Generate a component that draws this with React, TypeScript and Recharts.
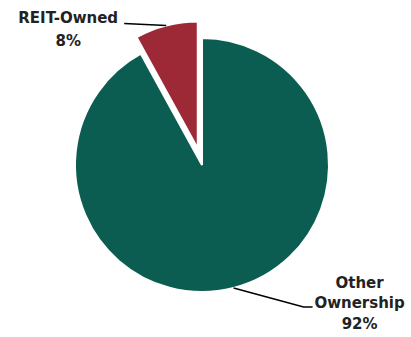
import { PieChart, Pie, Cell } from "recharts";

const categories = ["Other Ownership", "REIT-Owned"];
const shares = [92, 8];
const colors = ["#0b5d52", "#9d2937"];

const data = categories.map((name, i) => ({ name, value: shares[i] }));

const RAD = Math.PI / 180;
const FONT = "'DejaVu Sans', sans-serif";

// label + leader line, drawn from the slice edge
function renderLabel(props: any, which: string) {
  const { cx, cy, midAngle, outerRadius, name, percent } = props;
  if (name !== which) return null;
  const ex = cx + outerRadius * Math.cos(-midAngle * RAD);
  const ey = cy + outerRadius * Math.sin(-midAngle * RAD);
  const pct = `${Math.round(percent * 100)}%`;
  if (which === "REIT-Owned") {
    const lx = ex - 42;
    const ly = ey - 2;
    return (
      <g>
        <polyline points={`${ex},${ey} ${lx},${ly}`} stroke="#000" strokeWidth={1.5} fill="none" />
        <text x={lx - 56} y={ly - 1} textAnchor="middle" fontFamily={FONT} fontWeight="bold" fontSize={15} fill="#222">
          <tspan x={lx - 56} dy={0}>REIT-Owned</tspan>
          <tspan x={lx - 56} dy={23}>{pct}</tspan>
        </text>
      </g>
    );
  }
  const mx = ex + 70;
  const my = ey + 19;
  const tx = mx + 9;
  return (
    <g>
      <polyline points={`${ex},${ey} ${mx},${my} ${tx},${my}`} stroke="#000" strokeWidth={1.5} fill="none" />
      <text x={tx + 47} y={my - 19} textAnchor="middle" fontFamily={FONT} fontWeight="bold" fontSize={15} fill="#222">
        <tspan x={tx + 47} dy={0}>Other</tspan>
        <tspan x={tx + 47} dy={20}>Ownership</tspan>
        <tspan x={tx + 47} dy={21}>{pct}</tspan>
      </text>
    </g>
  );
}

export default function App() {
  const cx = 202;
  const cy = 165;
  const r = 127;
  // explode REIT slice outward along its mid angle
  const mid = 90 - (360 * shares[0]) / 100 - (360 * shares[1]) / 200;
  const off = 17;
  const ox = off * Math.cos(-mid * RAD);
  const oy = off * Math.sin(-mid * RAD);
  return (
    <div style={{ position: "absolute", left: 0, top: 0, background: "#fff" }}>
      <PieChart width={411} height={337} margin={{ top: 0, right: 0, bottom: 0, left: 0 }}>
        <Pie
          data={data}
          dataKey="value"
          nameKey="name"
          cx={cx}
          cy={cy}
          outerRadius={r}
          startAngle={90}
          endAngle={-270}
          isAnimationActive={false}
          labelLine={false}
          label={(p: any) => renderLabel(p, "Other Ownership")}
        >
          {data.map((d, i) => (
            <Cell
              key={d.name}
              fill={i === 0 ? colors[0] : "none"}
              stroke={i === 0 ? "#fff" : "none"}
              strokeWidth={2}
            />
          ))}
        </Pie>
        <Pie
          data={data}
          dataKey="value"
          nameKey="name"
          cx={cx + ox}
          cy={cy + oy}
          outerRadius={r}
          startAngle={90}
          endAngle={-270}
          isAnimationActive={false}
          labelLine={false}
          label={(p: any) => renderLabel(p, "REIT-Owned")}
        >
          {data.map((d, i) => (
            <Cell
              key={d.name}
              fill={i === 1 ? colors[1] : "none"}
              stroke={i === 1 ? "#fff" : "none"}
              strokeWidth={2}
            />
          ))}
        </Pie>
      </PieChart>
    </div>
  );
}
